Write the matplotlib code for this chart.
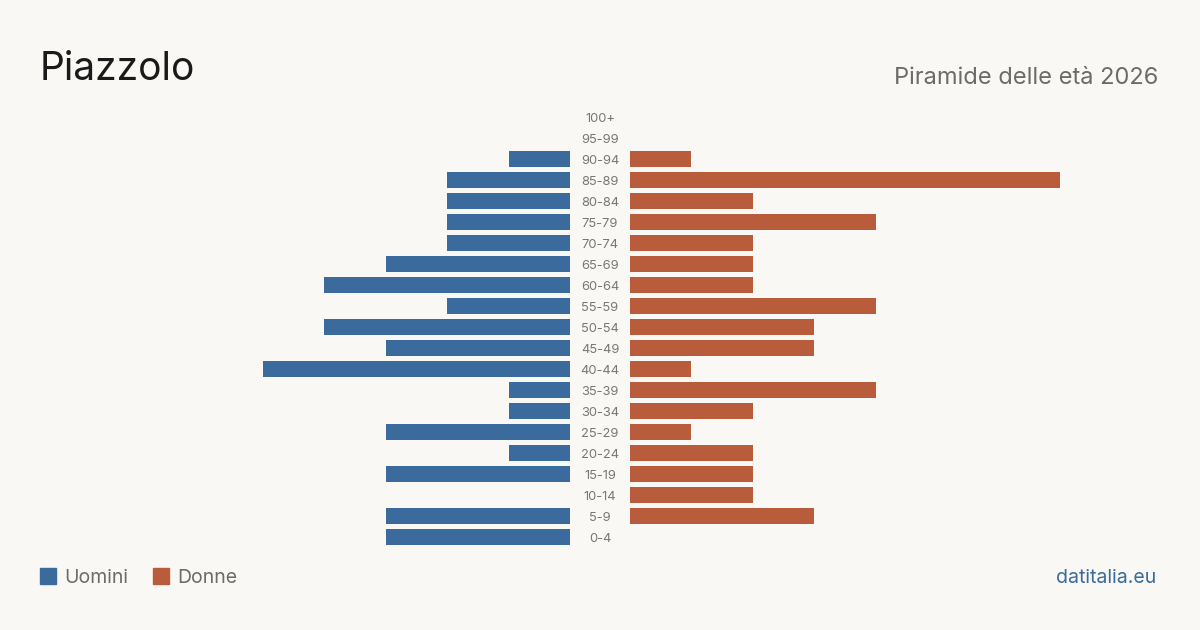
import matplotlib
matplotlib.use("Agg")
import matplotlib.pyplot as plt
from matplotlib.patches import Rectangle

# Data (from youngest to oldest)
age_groups = ["0-4", "5-9", "10-14", "15-19", "20-24", "25-29", "30-34", "35-39",
              "40-44", "45-49", "50-54", "55-59", "60-64", "65-69", "70-74", "75-79",
              "80-84", "85-89", "90-94", "95-99", "100+"]
males = [3, 3, 0, 3, 1, 3, 1, 1, 5, 3, 4, 2, 4, 3, 2, 2, 2, 2, 1, 0, 0]
females = [0, 3, 2, 2, 2, 1, 2, 4, 1, 3, 3, 4, 2, 2, 2, 4, 2, 7, 1, 0, 0]

title = "Piazzolo"
subtitle = "Piramide delle età 2026"
legend_labels = ["Uomini", "Donne"]
source = "datitalia.eu"

BG = "#f9f8f4"
BLUE = "#3b6b9c"
ORANGE = "#b95c3b"
GREY = "#6b6b6b"
FONT = ["Inter", "DejaVu Sans"]

W, H = 1200, 630
fig = plt.figure(figsize=(W / 100, H / 100), dpi=100, facecolor=BG)

vmax = max(max(males), max(females))
n = len(age_groups)
ys = list(range(n))

top = 1 - 106.5 / H
bottom = 1 - 547.5 / H
axL = fig.add_axes([140 / W, bottom, 430 / W, top - bottom])
axR = fig.add_axes([630 / W, bottom, 430 / W, top - bottom])

for ax in (axL, axR):
    ax.set_facecolor("none")
    ax.set_ylim(-0.5, n - 0.5)
    for s in ax.spines.values():
        s.set_visible(False)
    ax.set_xticks([])
    ax.set_yticks([])

axL.barh(ys, males, height=0.8, color=BLUE)
axL.set_xlim(vmax, 0)
axR.barh(ys, females, height=0.8, color=ORANGE)
axR.set_xlim(0, vmax)

# age labels in the center gap
row_h = (top - bottom) / n
for y, lab in zip(ys, age_groups):
    yc = bottom + (y + 0.5) * row_h
    fig.text(600 / W, yc - 5.3 / H, lab,
             ha="center", va="baseline", fontsize=9.3, color="#777777", family=FONT)

fig.text(40 / W, 1 - 80 / H, title, ha="left", va="baseline", fontsize=28,
         color="#1a1a1a", family=FONT)
fig.text(1158 / W, 1 - 84.5 / H, subtitle, ha="right", va="baseline", fontsize=17,
         color=GREY, family=FONT)

# legend
fig.patches.append(Rectangle((40 / W, 1 - 584 / H), 16 / W, 16 / H,
                             transform=fig.transFigure, color=BLUE))
fig.text(64 / W, 1 - 583 / H, legend_labels[0], ha="left", va="baseline",
         fontsize=14, color=GREY, family=FONT)
fig.patches.append(Rectangle((153 / W, 1 - 584 / H), 16 / W, 16 / H,
                             transform=fig.transFigure, color=ORANGE))
fig.text(177 / W, 1 - 583 / H, legend_labels[1], ha="left", va="baseline",
         fontsize=14, color=GREY, family=FONT)

fig.text(1156 / W, 1 - 583 / H, source, ha="right", va="baseline",
         fontsize=14, color=BLUE, family=FONT)

fig.savefig("out.png", dpi=100, facecolor=BG)
